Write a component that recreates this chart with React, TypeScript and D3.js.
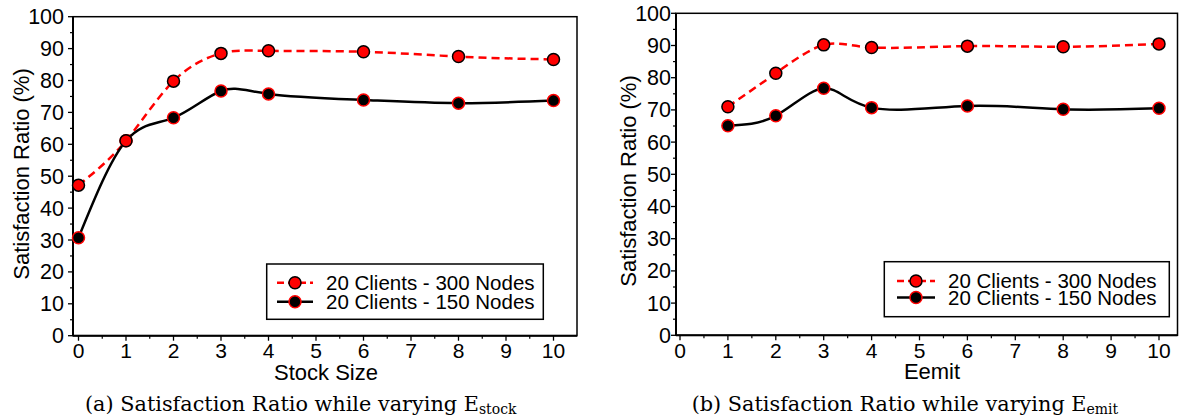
import React from "react";
import * as d3 from "d3";

const xTicks = [0, 1, 2, 3, 4, 5, 6, 7, 8, 9, 10];
const yTicks = [0, 10, 20, 30, 40, 50, 60, 70, 80, 90, 100];
const seriesNames = ["20 Clients - 300 Nodes", "20 Clients - 150 Nodes"];

const stockX = [0, 1, 2, 3, 4, 6, 8, 10];
const stock300 = [47.2, 61.1, 79.8, 88.5, 89.3, 89.0, 87.5, 86.6];
const stock150 = [30.7, 61.1, 68.3, 76.7, 75.8, 73.9, 72.9, 73.7];

const emitX = [1, 2, 3, 4, 6, 8, 10];
const emit300 = [71.0, 81.4, 90.2, 89.4, 89.8, 89.6, 90.5];
const emit150 = [65.1, 68.2, 76.7, 70.7, 71.2, 70.2, 70.5];

const SANS = "'Liberation Sans', Arial, sans-serif";
const SERIF = "'DejaVu Serif', serif";

type PanelProps = {
  frame: { l: number; r: number; t: number; b: number };
  x0: number;
  x10: number;
  xs: number[];
  s300: number[];
  s150: number[];
  xLabel: string;
  xLabelX: number;
  yLabelX: number;
  yLabelY: number;
  yTickEnd: number;
  legend: { x: number; y: number; w: number; h: number; lineX0: number; lineX1: number; textX: number; row1: number; row2: number };
  capX: number;
  capLetter: string;
  capSub: string;
};

function Panel(p: PanelProps) {
  const { frame } = p;
  const x = d3.scaleLinear().domain([0, 10]).range([p.x0, p.x10]);
  const y = d3.scaleLinear().domain([0, 100]).range([frame.b, frame.t]);
  const line = d3
    .line<[number, number]>()
    .x((d) => x(d[0]))
    .y((d) => y(d[1]))
    .curve(d3.curveNatural);
  const d300 = p.xs.map((v, i) => [v, p.s300[i]] as [number, number]);
  const d150 = p.xs.map((v, i) => [v, p.s150[i]] as [number, number]);
  const minorX = d3.range(0.5, 10.5, 1);
  const minorY = d3.range(5, 100, 10);
  const L = p.legend;
  const mid = (L.lineX0 + L.lineX1) / 2;
  return (
    <g>
      <rect x={frame.l} y={frame.t} width={frame.r - frame.l} height={frame.b - frame.t} fill="none" stroke="#000" strokeWidth={1.5} />
      <line x1={frame.l} x2={frame.r} y1={frame.b} y2={frame.b} stroke="#000" strokeWidth={2} />
      <line x1={frame.l} x2={frame.l} y1={frame.t} y2={frame.b} stroke="#000" strokeWidth={2} />
      {xTicks.map((t) => (
        <g key={"xt" + t}>
          <line x1={x(t)} x2={x(t)} y1={frame.b} y2={frame.b + 5} stroke="#000" strokeWidth={1.3} />
          <text x={x(t)} y={frame.b + 22.5} textAnchor="middle" fontFamily={SANS} fontSize={21}>{t}</text>
        </g>
      ))}
      {minorX.map((t) => (
        <line key={"xm" + t} x1={x(t)} x2={x(t)} y1={frame.b} y2={frame.b + 3} stroke="#000" strokeWidth={1.2} />
      ))}
      {yTicks.map((t) => (
        <g key={"yt" + t}>
          <line x1={frame.l - 5} x2={frame.l} y1={y(t)} y2={y(t)} stroke="#000" strokeWidth={1.3} />
          <text x={p.yTickEnd} y={y(t) + 7.5} textAnchor="end" fontFamily={SANS} fontSize={21.5}>{t}</text>
        </g>
      ))}
      {minorY.map((t) => (
        <line key={"ym" + t} x1={frame.l - 3} x2={frame.l} y1={y(t)} y2={y(t)} stroke="#000" strokeWidth={1.2} />
      ))}
      <text x={p.xLabelX} y={frame.b + 44} textAnchor="middle" fontFamily={SANS} fontSize={22}>{p.xLabel}</text>
      <text transform={`translate(${p.yLabelX},${p.yLabelY}) rotate(-90)`} textAnchor="middle" fontFamily={SANS} fontSize={22}>Satisfaction Ratio (%)</text>

      <path d={line(d300) || ""} fill="none" stroke="#ff0000" strokeWidth={2.5} strokeDasharray="8,5" />
      <path d={line(d150) || ""} fill="none" stroke="#000" strokeWidth={2.5} />
      {d150.map((d, i) => (
        <circle key={"b" + i} cx={x(d[0])} cy={y(d[1])} r={6} fill="#000" stroke="#ff0000" strokeWidth={1.5} />
      ))}
      {d300.map((d, i) => (
        <circle key={"r" + i} cx={x(d[0])} cy={y(d[1])} r={6} fill="#ff0000" stroke="#000" strokeWidth={1.5} />
      ))}

      <rect x={L.x} y={L.y} width={L.w} height={L.h} fill="#fff" stroke="#000" strokeWidth={1.5} />
      <line x1={L.lineX0} x2={L.lineX1} y1={L.row1} y2={L.row1} stroke="#ff0000" strokeWidth={2.5} strokeDasharray="7,4" />
      <circle cx={mid} cy={L.row1} r={6} fill="#ff0000" stroke="#000" strokeWidth={1.5} />
      <line x1={L.lineX0} x2={L.lineX1} y1={L.row2} y2={L.row2} stroke="#000" strokeWidth={2.5} />
      <circle cx={mid} cy={L.row2} r={6} fill="#000" stroke="#ff0000" strokeWidth={1.5} />
      <text x={L.textX} y={L.row1 + 7} fontFamily={SANS} fontSize={20.5}>{seriesNames[0]}</text>
      <text x={L.textX} y={L.row2 + 7} fontFamily={SANS} fontSize={20.5}>{seriesNames[1]}</text>

      <text x={p.capX} y={411} fontFamily={SERIF} fontSize={20.8}>
        {`(${p.capLetter}) Satisfaction Ratio while varying E`}
        <tspan fontSize={14} dy={3}>{p.capSub}</tspan>
      </text>
    </g>
  );
}

export default function App() {
  return (
    <svg width={1179} height={418} style={{ position: "absolute", left: 0, top: 0, background: "#fff" }}>
      <rect x={0} y={0} width={1179} height={418} fill="#fff" />
      <Panel
        frame={{ l: 73, r: 577, t: 16.7, b: 335.7 }}
        x0={78.5}
        x10={553.5}
        xs={stockX}
        s300={stock300}
        s150={stock150}
        xLabel="Stock Size"
        xLabelX={326}
        yLabelX={29}
        yLabelY={174}
        yTickEnd={64}
        legend={{ x: 266.7, y: 264, w: 276.6, h: 55.3, lineX0: 277, lineX1: 313, textX: 326, row1: 282.7, row2: 301.7 }}
        capX={85}
        capLetter="a"
        capSub="stock"
      />
      <Panel
        frame={{ l: 676, r: 1177.5, t: 13.3, b: 335.3 }}
        x0={680}
        x10={1159}
        xs={emitX}
        s300={emit300}
        s150={emit150}
        xLabel="Eemit"
        xLabelX={932}
        yLabelX={635.5}
        yLabelY={181}
        yTickEnd={671}
        legend={{ x: 884.3, y: 261.7, w: 285, h: 55, lineX0: 897, lineX1: 935, textX: 948, row1: 281, row2: 297.5 }}
        capX={691.7}
        capLetter="b"
        capSub="emit"
      />
    </svg>
  );
}
